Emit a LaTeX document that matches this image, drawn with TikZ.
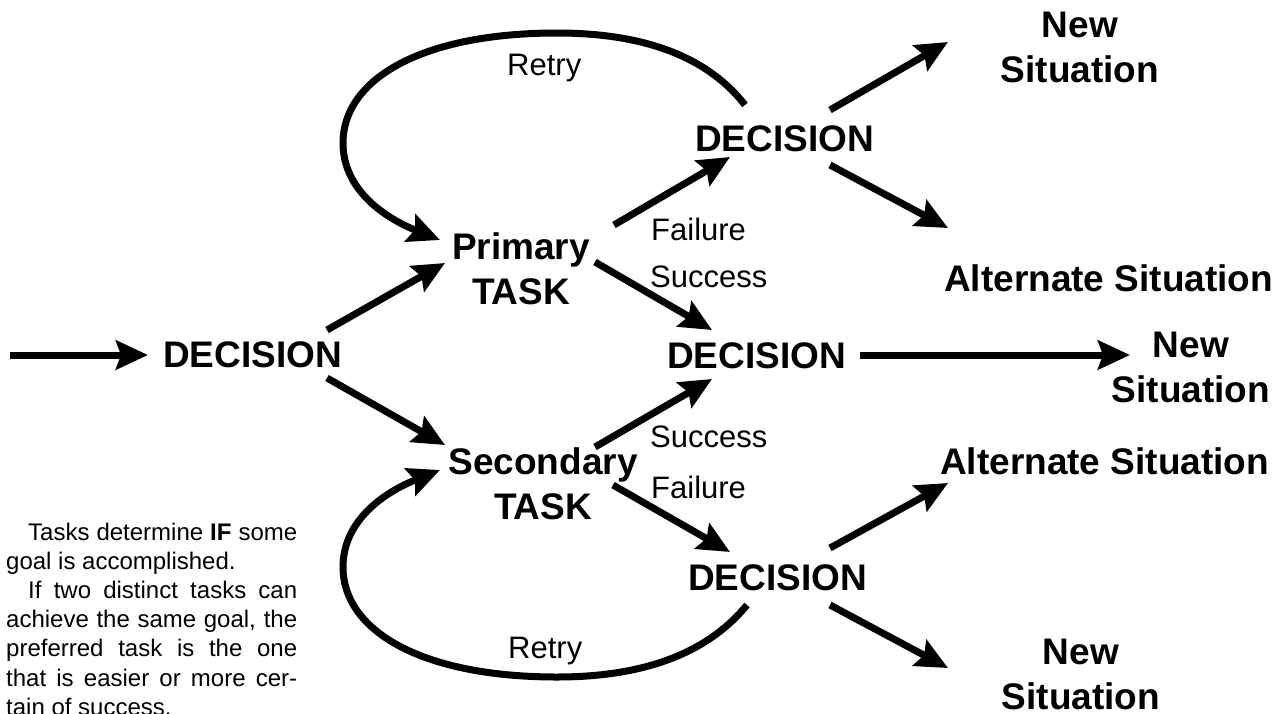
\documentclass[tikz,border=0pt]{standalone}
\usepackage{fontspec}
\setmainfont{Liberation Sans}
\usetikzlibrary{arrows.meta,calc}
\tikzset{
  big/.style={font=\bfseries\fontsize{37}{45}\selectfont, inner sep=0pt, align=center},
  lab/.style={font=\fontsize{31}{36}\selectfont, inner sep=0pt, anchor=base west},
  arr/.style={line width=7pt, -{Stealth[length=32pt,width=29pt,inset=5pt]}},
  para/.style={anchor=north west, inner sep=0pt, text width=291pt, align=justify,
    font=\fontsize{24}{29.2}\selectfont},
}
\begin{document}
\begin{tikzpicture}[x=1pt,y=-1pt]
\useasboundingbox (0,0) rectangle (1283,713);
% nodes
\node[big, anchor=base west] (d0) at (163,367) {DECISION};
\node[big, anchor=north] (p) at (521,232) {Primary\\TASK};
\node[big, anchor=north] (s) at (543,447) {Secondary\\TASK};
\node[big, anchor=base west] (dt) at (695,151) {DECISION};
\node[big, anchor=base west] (dm) at (667,368) {DECISION};
\node[big, anchor=base west] (db) at (688,590) {DECISION};
\node[big, anchor=north] (n1) at (1080,12) {New\\Situation};
\node[big, anchor=base west] (a1) at (944,291) {Alternate Situation};
\node[big, anchor=north] (n2) at (1191,332) {New\\Situation};
\node[big, anchor=base west] (a2) at (940,474) {Alternate Situation};
\node[big, anchor=north] (n3) at (1081,639) {New\\Situation};
% labels
\node[lab] (r1) at (507,75) {Retry};
\node[lab] (f1) at (651,240) {Failure};
\node[lab] (s1) at (650,287) {Success};
\node[lab] (s2) at (650,447) {Success};
\node[lab] (f2) at (651,498) {Failure};
\node[lab] (r2) at (508,658) {Retry};
% paragraph
\node[para] (txt) at (6,522.5) {\hspace*{22pt}Tasks determine \textbf{IF} some\linebreak goal is accomplished.\par
\hspace*{22pt}If two distinct tasks can\linebreak achieve the same goal, the\linebreak preferred task is the one\linebreak that is easier or more cer-\linebreak tain of success.};
% connectors
\coordinate (in) at (10,355);
\draw[arr] (in) -- ($(d0.base west)+(-15,-12)$);
\draw[arr] ($(d0.base west)+(164,-37)$) -- ($(p.north)+(-76,31)$);
\draw[arr] ($(d0.base west)+(164,11)$) -- ($(s.north)+(-98,-2)$);
\draw[arr] ($(p.north)+(93,-7)$) -- ($(dt.base west)+(35,6)$);
\draw[arr] ($(p.north)+(74,30)$) -- ($(dm.base west)+(45,-38)$);
\draw[arr] ($(s.north)+(52,0)$) -- ($(dm.base west)+(45,11)$);
\draw[arr] ($(s.north)+(70,38)$) -- ($(db.base west)+(42,-38)$);
\draw[arr] ($(dt.base west)+(135,-41)$) -- ($(n1.north)+(-132,30)$);
\draw[arr] ($(dt.base west)+(135,14)$) -- ($(a1.base west)+(4,-63)$);
\draw[arr] ($(dm.base west)+(193,-13)$) -- ($(n2.north)+(-61,23)$);
\draw[arr] ($(db.base west)+(142,-42)$) -- ($(a2.base west)+(8,9)$);
\draw[arr] ($(db.base west)+(142,15)$) -- ($(n3.north)+(-133,29)$);
% retry loops
\draw[arr] ($(dt.base west)+(50,-46)$) .. controls (710,60) and (650,33) .. (557,33)
  .. controls (420,33) and (343,80) .. (343,143)
  .. controls (343,190) and (385,218) .. ($(p.north)+(-81,8)$);
\draw[arr] ($(db.base west)+(59,15)$) .. controls (710,650) and (650,677) .. (557,677)
  .. controls (420,677) and (343,630) .. (343,567)
  .. controls (343,520) and (385,492) .. ($(s.north)+(-103,23)$);
\end{tikzpicture}
\end{document}
